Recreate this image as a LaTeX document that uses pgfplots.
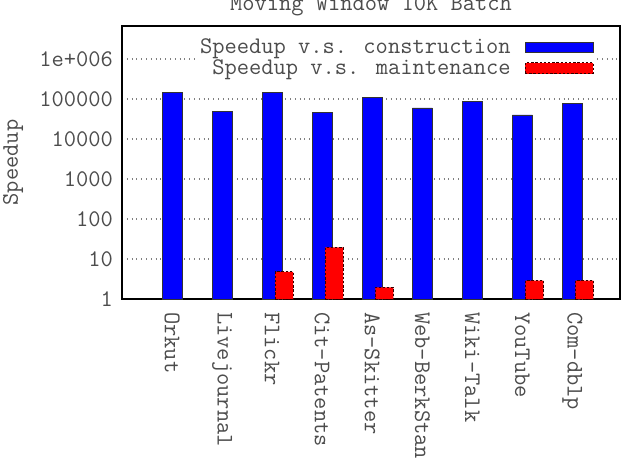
\documentclass[border=0pt]{standalone}
\usepackage{fontspec}
\usepackage{pgfplots}
\pgfplotsset{compat=1.18}
\newcommand{\cf}{\ttfamily\fontsize{11.9}{13}\selectfont}
\definecolor{txt}{gray}{0.3}
\begin{document}
\begin{tikzpicture}
\begin{axis}[
  name=ax,
  scale only axis,
  width=249pt, height=136.5pt,
  ymode=log, log basis y=10,
  ymin=1, ymax=6.7e6,
  xmin=-1, xmax=8.95,
  axis line style={line width=1.2pt, black},
  ytick={1,10,100,1000,10000,100000,1000000},
  yticklabels={1,10,100,1000,10000,100000,1e+006},
  xtick={0,1,2,3,4,5,6,7,8},
  xticklabels={Orkut,Livejournal,Flickr,Cit-Patents,As-Skitter,Web-BerkStan,Wiki-Talk,YouTube,Com-dblp},
  x tick label style={rotate=-90, anchor=west, font=\cf, text=txt},
  y tick label style={font=\cf, text=txt},
  xticklabel shift=3pt,
  yticklabel shift=1pt,
  major tick length=0pt, minor tick length=0pt,
  ymajorgrids,
  major grid style={dotted, gray, line width=0.6pt},
  ylabel={Speedup},
  every axis y label/.style={at={(rel axis cs:0,0.5)}, xshift=-54.5pt, rotate=90, anchor=center, font=\cf, text=txt},
  title={Moving Window 10K Batch},
  every axis title/.style={at={(rel axis cs:0.5,1)}, anchor=base, yshift=8pt, font=\cf, text=txt},
  ybar, bar width=0.4,
  legend plot pos=right,
  legend style={at={(1,1)}, anchor=north east, xshift=-13pt, yshift=-4pt,
    draw=none, fill=white, inner sep=0pt, font=\cf, text=txt,
    cells={anchor=east}, row sep=-2.5pt},
  legend image code/.code={\path (0pt,0pt); \draw[#1, bar shift=0pt] (5pt,-2.7pt) rectangle (39pt,2.7pt);},
]
\addplot[fill=blue, draw=black!80, line width=0.4pt, bar shift=0pt] coordinates {
  (0,144000) (1,50000) (2,150000) (3,46000) (4,107000) (5,60000) (6,89000) (7,40000) (8,76000)
};
\addlegendentry{Speedup v.s. construction}
\addplot[fill=red, draw=black!80!red, dash pattern=on 1.2pt off 0.9pt, line width=0.5pt, bar width=0.36, bar shift=0.24] coordinates {
  (2,4.8) (3,19.6) (4,1.96) (7,2.9) (8,2.9)
};
\addlegendentry{Speedup v.s. maintenance}
\end{axis}
\pgfresetboundingbox
\path ([xshift=-61pt,yshift=-87.5pt]ax.south west) rectangle ([xshift=3pt,yshift=13pt]ax.north east);
\end{tikzpicture}
\end{document}
